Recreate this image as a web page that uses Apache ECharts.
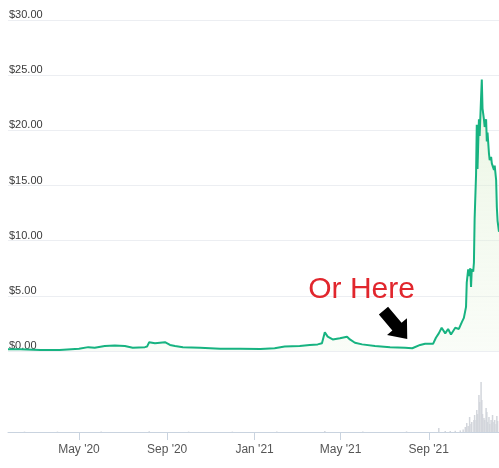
<!DOCTYPE html>
<html><head><meta charset="utf-8">
<script src="https://cdn.jsdelivr.net/npm/echarts@6/dist/echarts.min.js"></script>
<style>html,body{margin:0;padding:0;background:#fff}#c{width:499px;height:468px}</style>
</head><body><div id="c"></div>
<script>
const priceDates = ['2020-01-23','2020-02-09','2020-03-08','2020-04-04','2020-05-01','2020-05-14','2020-05-23','2020-06-06','2020-06-20','2020-07-04','2020-07-15','2020-08-01','2020-08-04','2020-08-07','2020-08-15','2020-08-22','2020-08-29','2020-09-05','2020-09-12','2020-09-23','2020-10-17','2020-11-14','2020-12-12','2021-01-09','2021-01-29','2021-02-12','2021-03-05','2021-03-19','2021-03-30','2021-04-05','2021-04-09','2021-04-13','2021-04-20','2021-04-30','2021-05-10','2021-05-14','2021-05-21','2021-05-31','2021-06-18','2021-07-09','2021-07-30','2021-08-09','2021-08-20','2021-08-27','2021-09-07','2021-09-11','2021-09-15','2021-09-19','2021-09-24','2021-09-28','2021-10-02','2021-10-08','2021-10-13','2021-10-17','2021-10-20','2021-10-23','2021-10-24','2021-10-26','2021-10-27','2021-10-29','2021-10-30','2021-10-31','2021-11-02','2021-11-03','2021-11-04','2021-11-06','2021-11-07','2021-11-08','2021-11-10','2021-11-11','2021-11-13','2021-11-14','2021-11-15','2021-11-17','2021-11-18','2021-11-20','2021-11-21','2021-11-22','2021-11-24','2021-11-25','2021-11-27','2021-11-28','2021-11-29','2021-12-01','2021-12-02','2021-12-04','2021-12-05','2021-12-06','2021-12-08'];
const priceValues = [0.15,0.15,0.1,0.1,0.2,0.35,0.3,0.45,0.5,0.45,0.3,0.35,0.4,0.8,0.7,0.75,0.8,0.55,0.45,0.35,0.3,0.2,0.2,0.18,0.25,0.4,0.45,0.55,0.6,0.7,1.7,1.3,1.05,1.15,1.3,1.05,0.75,0.6,0.45,0.35,0.3,0.25,0.55,0.65,0.65,1.2,1.6,2.1,1.6,2.0,1.5,2.1,2.0,2.6,3.0,4.0,6.2,7.4,6.8,7.5,5.8,7.4,7.2,8.0,12.0,16.0,20.5,16.5,21.0,19.5,23.0,24.6,22.0,21.0,20.3,21.0,19.0,19.8,17.9,17.3,17.6,17.0,16.8,16.4,16.8,15.5,13.0,11.8,10.8];
const volumeDates = ['2020-02-15','2020-04-01','2020-06-01','2020-08-07','2020-10-01','2020-12-01','2021-02-01','2021-04-09','2021-06-01','2021-08-01','2021-09-15','2021-09-24','2021-10-01','2021-10-08','2021-10-15','2021-10-19','2021-10-22','2021-10-24','2021-10-26','2021-10-28','2021-10-30','2021-10-31','2021-11-03','2021-11-04','2021-11-06','2021-11-07','2021-11-08','2021-11-10','2021-11-11','2021-11-13','2021-11-14','2021-11-15','2021-11-17','2021-11-18','2021-11-20','2021-11-21','2021-11-22','2021-11-24','2021-11-25','2021-11-27','2021-11-28','2021-11-29','2021-12-01','2021-12-02','2021-12-04','2021-12-05','2021-12-06'];
const volumeValues = [2,2,3,4,2,2,3,5,3,3,20,5,5,6,8,12,25,45,30,75,40,50,60,85,60,110,90,185,150,250,160,90,70,60,120,100,50,75,40,60,45,85,50,60,40,80,55];
const yTicks = [0,5,10,15,20,25,30];
const xTickDates = ['2020-05-01','2020-09-01','2021-01-01','2021-05-01','2021-09-01'];
const xRange = ['2020-01-23','2021-12-08'];
const monthNames = ['Jan','Feb','Mar','Apr','May','Jun','Jul','Aug','Sep','Oct','Nov','Dec'];
const annotationText = 'Or Here';
const annotationDate = '2021-08-02';
const annotationPrice = 0.28;

const ts = s => new Date(s + 'T00:00:00').getTime();
const priceData = priceDates.map((d,i)=>[ts(d), priceValues[i]]);
const volData = volumeDates.map((d,i)=>[ts(d), volumeValues[i]]);
const green = '#17b381';
const font = 'Liberation Sans, Arial, sans-serif';

const chart = echarts.init(document.getElementById('c'));
chart.setOption({
  animation:false,
  grid:[
    {left:8,right:0,top:20,height:331,containLabel:false},
    {left:8,right:0,top:360,height:72,containLabel:false}
  ],
  xAxis:[
    {type:'value',gridIndex:0,min:ts(xRange[0]),max:ts(xRange[1]),show:false,splitLine:{show:false}},
    {type:'value',gridIndex:1,min:ts(xRange[0]),max:ts(xRange[1]),
     axisLine:{show:true,lineStyle:{color:'#c9d3df',width:1}},
     axisTick:{show:true,length:8,lineStyle:{color:'#c9d3df'},customValues:xTickDates.map(ts)},
     axisLabel:{customValues:xTickDates.map(ts),color:'#555',fontSize:12,fontFamily:font,margin:12,
       formatter:v=>{const d=new Date(v);return monthNames[d.getMonth()]+" '"+String(d.getFullYear()).slice(2);}},
     splitLine:{show:false}}
  ],
  yAxis:[
    {type:'value',gridIndex:0,min:0,max:30,interval:5,position:'left',
     axisLine:{show:false},axisTick:{show:false},
     axisLabel:{inside:true,margin:1,align:'left',verticalAlign:'bottom',lineHeight:10,color:'#3a3a3a',fontSize:11,fontFamily:font,
       formatter:v=>'$'+v.toFixed(2)},
     splitLine:{show:true,lineStyle:{color:'#eceef2',width:1}}},
    {type:'value',gridIndex:1,min:0,max:360,show:false,splitLine:{show:false}}
  ],
  series:[
    {type:'bar',xAxisIndex:1,yAxisIndex:1,data:volData,barWidth:1.5,itemStyle:{color:'#d3d6dc'},z:1},
    {type:'line',xAxisIndex:0,yAxisIndex:0,data:priceData,showSymbol:false,symbol:'none',
     lineStyle:{color:green,width:2},
     areaStyle:{color:new echarts.graphic.LinearGradient(0,0,0,1,[{offset:0,color:'rgba(215,236,200,0.75)'},{offset:1,color:'rgba(235,246,228,0.4)'}])},
     z:3}
  ]
});

const p = chart.convertToPixel({xAxisIndex:0,yAxisIndex:0},[ts(annotationDate),annotationPrice]);
const tip = [p[0], p[1]-9];
const th = 50*Math.PI/180;
const d = [Math.cos(th), Math.sin(th)], n = [-Math.sin(th), Math.cos(th)];
const pt = (base, along, across) => [base[0]+d[0]*along+n[0]*across, base[1]+d[1]*along+n[1]*across];
const arrow = [pt(tip,0,0),pt(tip,-16,13),pt(tip,-16,6),pt(tip,-37,6),pt(tip,-37,-6),pt(tip,-16,-6),pt(tip,-16,-13)];
chart.setOption({graphic:[
  {type:'polygon',shape:{points:arrow},style:{fill:'#000'},z:10},
  {type:'text',x:tip[0]-99,y:tip[1]-64,style:{text:annotationText,fill:'#e1262d',font:'30px '+font,verticalAlign:'top'},z:10}
]});
</script></body></html>
